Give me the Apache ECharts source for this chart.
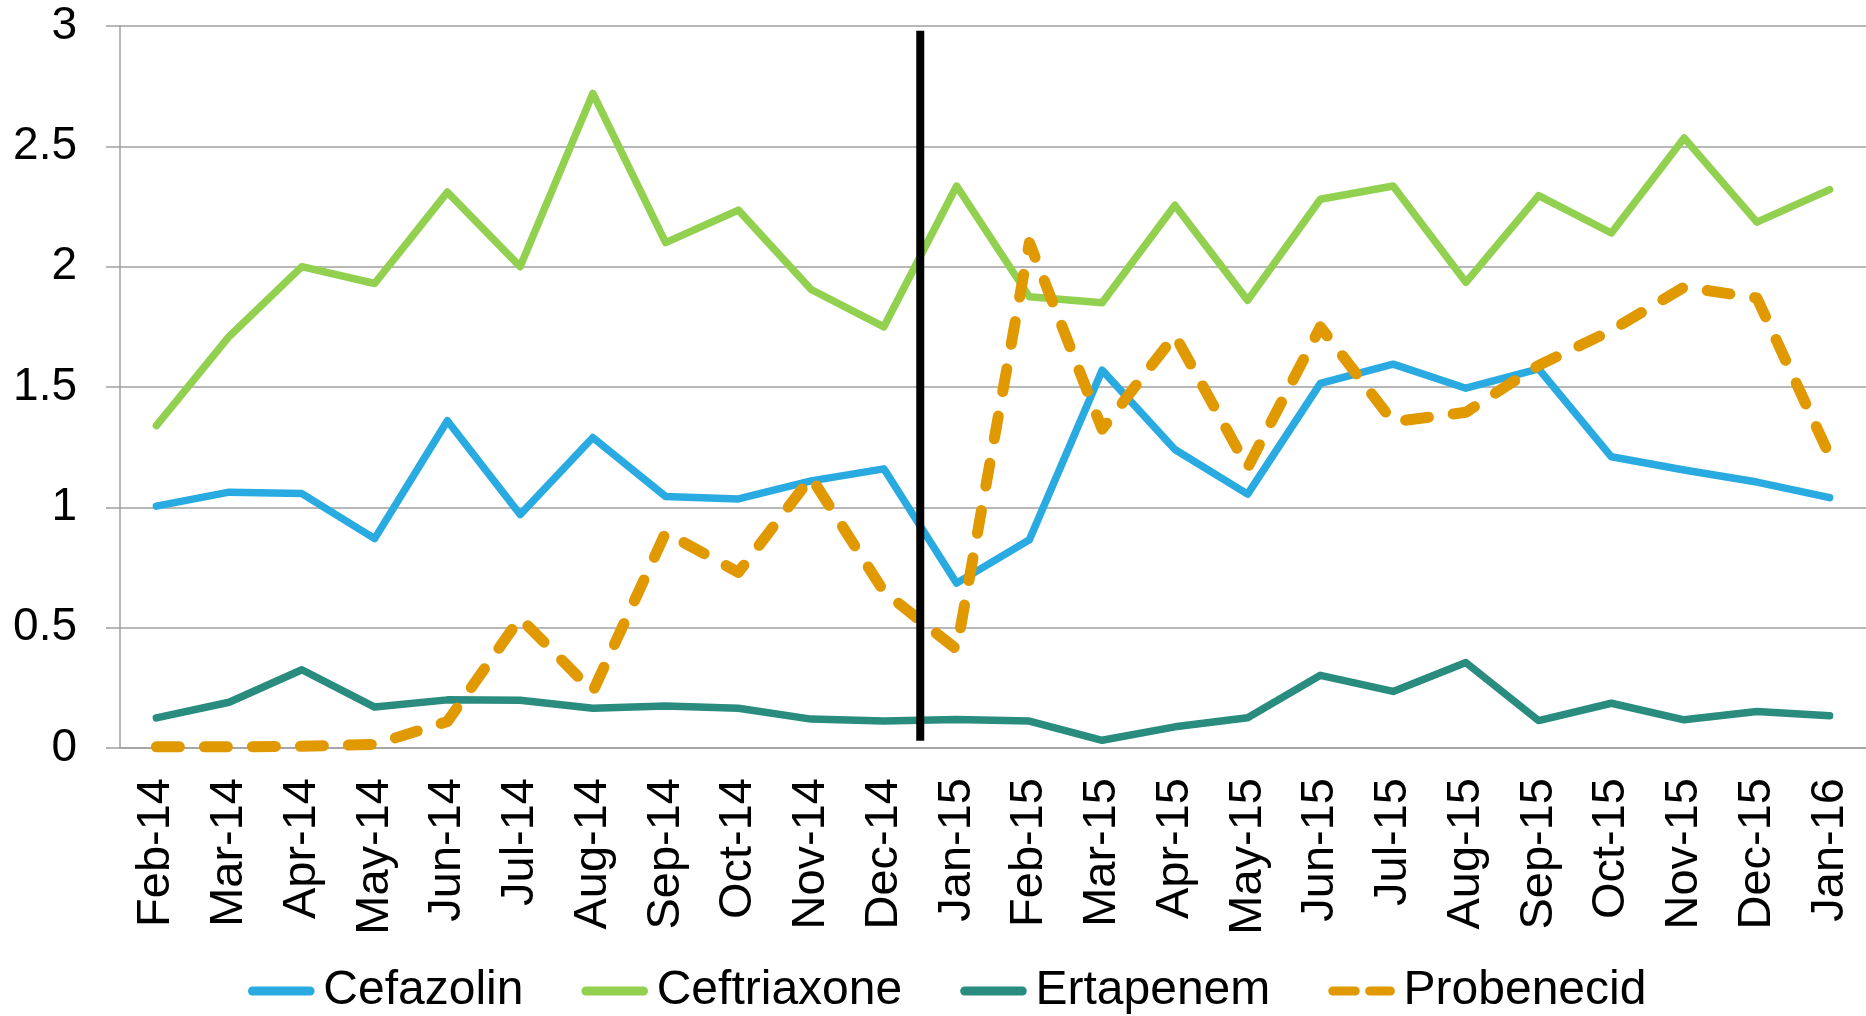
<!DOCTYPE html>
<html lang="en">
<head>
    <meta charset="utf-8" />
    <title>Antibiotic use</title>
    <script src="https://cdn.jsdelivr.net/npm/echarts@6/dist/echarts.min.js"></script>
    <style>
        html, body { margin: 0; padding: 0; background: #fff; }
    </style>
</head>
<body>
    <div id="main" style="width: 1866px;height:1016px;"></div>
    <script>
        var months = ['Feb-14', 'Mar-14', 'Apr-14', 'May-14', 'Jun-14', 'Jul-14', 'Aug-14', 'Sep-14',
            'Oct-14', 'Nov-14', 'Dec-14', 'Jan-15', 'Feb-15', 'Mar-15', 'Apr-15', 'May-15',
            'Jun-15', 'Jul-15', 'Aug-15', 'Sep-15', 'Oct-15', 'Nov-15', 'Dec-15', 'Jan-16'];

        var cefazolin = [1.005, 1.063, 1.057, 0.87, 1.36, 0.97, 1.29, 1.045, 1.035, 1.11, 1.16, 0.685,
            0.865, 1.57, 1.24, 1.055, 1.515, 1.595, 1.495, 1.575, 1.21, 1.155, 1.105, 1.04];
        var ceftriaxone = [1.34, 1.71, 2.0, 1.93, 2.31, 2.0, 2.72, 2.1, 2.235, 1.905, 1.75, 2.335,
            1.875, 1.85, 2.255, 1.86, 2.28, 2.335, 1.935, 2.295, 2.14, 2.535, 2.185, 2.32];
        var ertapenem = [0.125, 0.19, 0.325, 0.17, 0.2, 0.198, 0.165, 0.175, 0.165, 0.12, 0.112, 0.118,
            0.112, 0.032, 0.088, 0.126, 0.302, 0.235, 0.355, 0.114, 0.186, 0.117, 0.152, 0.134];
        var probenecid = [0.005, 0.005, 0.007, 0.015, 0.11, 0.54, 0.235, 0.895, 0.73, 1.125, 0.65, 0.41,
            2.1, 1.325, 1.715, 1.165, 1.75, 1.355, 1.395, 1.59, 1.735, 1.915, 1.87, 1.215];

        var yTicks = [0, 0.5, 1, 1.5, 2, 2.5, 3];
        // policy change marker, between Dec-14 and Jan-15
        var dividerX = 11;
        var dividerY = [0.03, 2.98];

        var chartDom = document.getElementById('main');
        var myChart = echarts.init(chartDom);
        var font = '"Liberation Sans", Arial, sans-serif';
        var grey = '#a0a0a0';
        var solidIcon = 'path://M5,0h64a5,5 0 0 1 0,10h-64a5,5 0 0 1 0,-10z';
        var dashIcon = 'path://M5,0h25a5,5 0 0 1 0,10h-25a5,5 0 0 1 0,-10z M46,0h23a5,5 0 0 1 0,10h-23a5,5 0 0 1 0,-10z';

        var option = {
            animation: false,
            grid: { left: 120, right: 0, top: 26, bottom: 268 },
            legend: {
                top: 962,
                left: 243,
                itemWidth: 74,
                itemHeight: 9,
                itemGap: 58,
                data: [
                    { name: 'Cefazolin', icon: solidIcon },
                    { name: 'Ceftriaxone', icon: solidIcon },
                    { name: 'Ertapenem', icon: solidIcon },
                    { name: 'Probenecid', icon: dashIcon }
                ],
                textStyle: { fontSize: 48, color: '#000', fontFamily: font }
            },
            xAxis: [
                {
                    type: 'category',
                    data: months,
                    axisLine: { lineStyle: { color: grey, width: 1.5 } },
                    axisTick: { length: 13, lineStyle: { color: grey, width: 1.5 } },
                    axisLabel: {
                        rotate: 90, margin: 30, interval: 0,
                        fontSize: 47, color: '#000', fontFamily: font
                    }
                },
                { type: 'value', min: 0, max: 24, show: false }
            ],
            yAxis: {
                type: 'value',
                min: yTicks[0],
                max: yTicks[yTicks.length - 1],
                interval: 0.5,
                axisLine: { show: true, lineStyle: { color: grey, width: 1.5 } },
                axisTick: { show: true, length: 14, lineStyle: { color: grey, width: 1.5 } },
                splitLine: { lineStyle: { color: grey, width: 1.5 } },
                axisLabel: { margin: 43, fontSize: 46, color: '#000', fontFamily: font }
            },
            series: [
                {
                    name: 'Cefazolin', type: 'line', data: cefazolin, symbol: 'none',
                    lineStyle: { color: '#29abe2', width: 7.5, cap: 'round', join: 'round' },
                    itemStyle: { color: '#29abe2' }
                },
                {
                    name: 'Ceftriaxone', type: 'line', data: ceftriaxone, symbol: 'none',
                    lineStyle: { color: '#92d050', width: 7.5, cap: 'round', join: 'round' },
                    itemStyle: { color: '#92d050' }
                },
                {
                    name: 'Ertapenem', type: 'line', data: ertapenem, symbol: 'none',
                    lineStyle: { color: '#2a8c7e', width: 7.5, cap: 'round', join: 'round' },
                    itemStyle: { color: '#2a8c7e' }
                },
                {
                    name: 'Probenecid', type: 'line', data: probenecid, symbol: 'none',
                    lineStyle: { color: '#e09900', width: 11, type: [23, 25], cap: 'round', join: 'round' },
                    itemStyle: { color: '#e09900' }
                },
                {
                    name: 'divider', type: 'line', xAxisIndex: 1, symbol: 'none', silent: true,
                    data: [[dividerX, dividerY[0]], [dividerX, dividerY[1]]],
                    lineStyle: { color: '#000', width: 8 }
                }
            ]
        };

        option && myChart.setOption(option);
    </script>
</body>
</html>
